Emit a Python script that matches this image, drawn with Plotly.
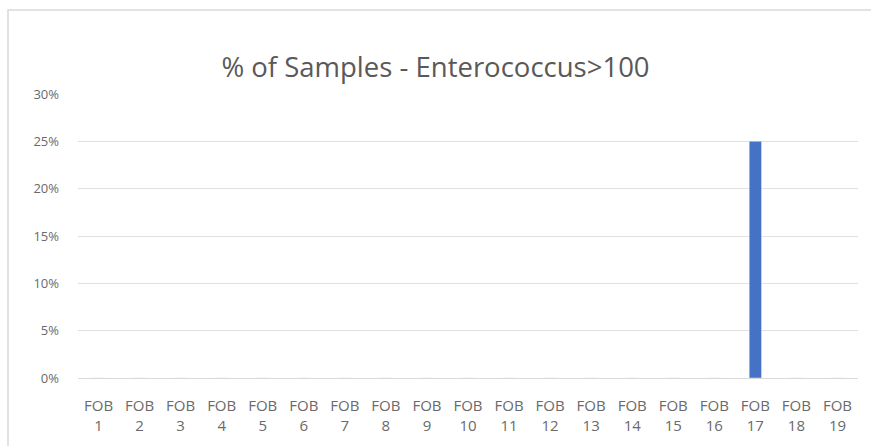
import plotly.graph_objects as go

categories = [f"FOB<br>{i}" for i in range(1, 20)]
values = [0, 0, 0, 0, 0, 0, 0, 0, 0, 0, 0, 0, 0, 0, 0, 0, 0.25, 0, 0]
y_ticks = [0, 0.05, 0.10, 0.15, 0.20, 0.25, 0.30]
y_labels = ["0%", "5%", "10%", "15%", "20%", "25%", "30%"]

fig = go.Figure(go.Bar(x=categories, y=values, marker_color="#4472C4", width=0.3))

fig.update_layout(
    width=871, height=446,
    margin=dict(l=78, r=13, t=94, b=68),
    paper_bgcolor="white", plot_bgcolor="white",
    font=dict(family="Open Sans", color="#595959", size=13),
    title=dict(text="% of Samples - Enterococcus>100", x=0.5, xanchor="center",
               y=1 - 67 / 446, yanchor="middle",
               font=dict(size=27.5, color="#595959", family="Open Sans")),
    showlegend=False,
    bargap=0.7,
)
fig.update_yaxes(range=[0, 0.30], tickvals=y_ticks, ticktext=y_labels, automargin=False,
                 gridcolor="#E0E0E0", gridwidth=1, zeroline=False, showline=False,
                 ticks="", ticklabelstandoff=18, tickfont=dict(size=13, color="#6A6A6A"))
fig.update_xaxes(showgrid=False, showline=True, linecolor="#D9D9D9", linewidth=1,
                 automargin=False, ticks="", ticklabelstandoff=14,
                 tickfont=dict(size=15, color="#6A6A6A"), tickangle=0)
fig.add_shape(type="rect", xref="paper", yref="paper",
              x0=-70 / 780, x1=1.2, y0=-0.5, y1=1 + 84 / 284,
              line=dict(color="#D9D9D9", width=1.5), fillcolor="rgba(0,0,0,0)", layer="below")

fig.write_html("out.html", config={"displayModeBar": False},
               post_script="document.body.style.margin='0';")
